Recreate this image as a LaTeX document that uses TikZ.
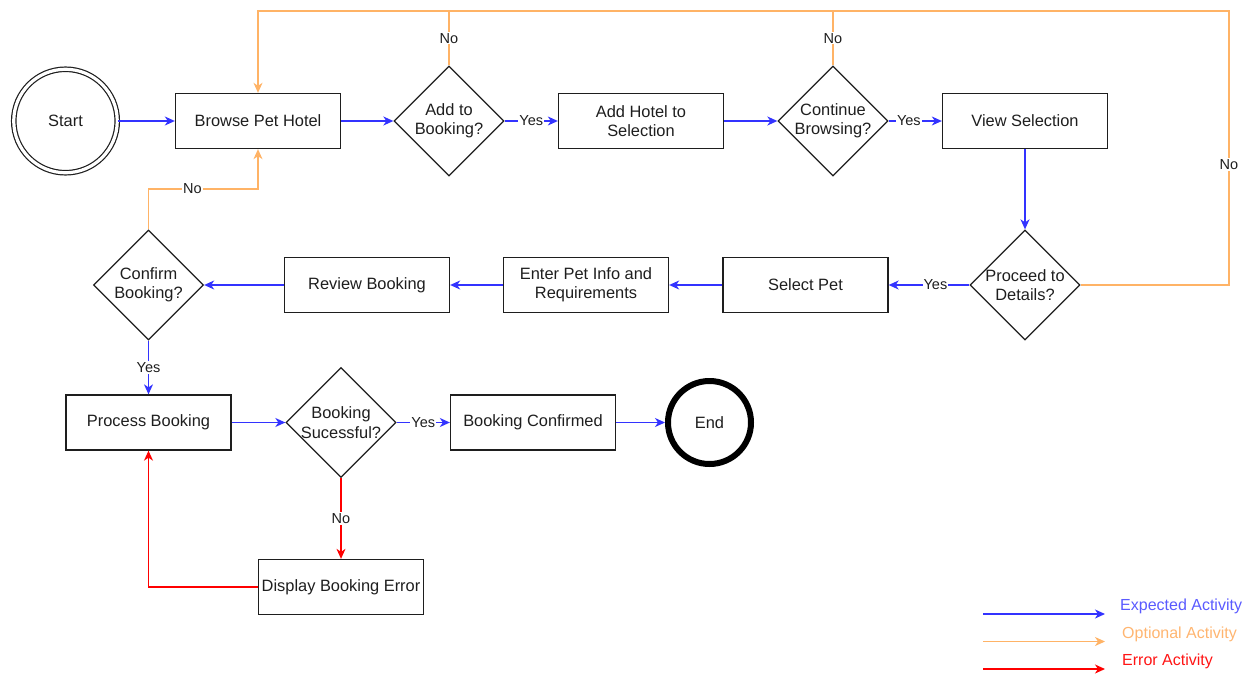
\documentclass[tikz,border=0pt]{standalone}
\usepackage{fontspec}
\setmainfont{Liberation Sans}
\usetikzlibrary{arrows.meta,shapes.geometric,calc}

\definecolor{flowblue}{RGB}{51,51,255}
\definecolor{flowopt}{RGB}{255,179,102}
\definecolor{flowerr}{RGB}{255,0,0}
\definecolor{ink}{RGB}{30,30,30}
\definecolor{legblue}{RGB}{90,90,255}
\definecolor{legorange}{RGB}{255,181,112}
\definecolor{legred}{RGB}{255,20,20}

\newcommand{\bodyfont}{\fontsize{16.4}{19.5}\selectfont}
\newcommand{\edgefont}{\fontsize{14.5}{16}\selectfont}
\newcommand{\legfont}{\fontsize{16}{18}\selectfont}

\begin{document}
\begin{tikzpicture}[x=1pt,y=-1pt,
  box/.style={draw=ink,line width=1.3pt,minimum width=165pt,minimum height=55pt,
              inner sep=2pt,align=center,font=\bodyfont,text=ink},
  decision/.style={draw=ink,diamond,line width=1.3pt,minimum width=110pt,
                   minimum height=110pt,inner sep=0pt},
  dtext/.style={font=\bodyfont,text=ink,align=center},
  flow/.style={line width=1.3pt,-{Stealth[length=10pt,width=9pt,inset=3pt]}},
  expected/.style={flow,draw=flowblue},
  optional/.style={flow,draw=flowopt},
  error/.style={flow,draw=flowerr},
  optline/.style={line width=1.3pt,draw=flowopt},
  lbl/.style={fill=white,inner sep=1pt,font=\edgefont,text=ink},
  legtext/.style={anchor=west,inner sep=0pt,font=\legfont},
]
\useasboundingbox (0,0) rectangle (1251,675);

% ---- first row ----
\node[circle,draw=ink,double,double distance=3.2pt,line width=1.2pt,
      minimum size=103.5pt,inner sep=0pt,font=\bodyfont,text=ink] (start) at (65.5,121) {Start};
\node[box] (browse) at (258,121) {Browse Pet Hotel};
\node[decision,label={[dtext,name=d1t]center:Add to\\Booking?}] (d1) at (449,121) {};
\node[box] (addhotel) at (641,121) {Add Hotel to\\Selection};
\node[decision,label={[dtext,name=d2t]center:Continue\\Browsing?}] (d2) at (833,121) {};
\node[box] (view) at (1025,121) {View Selection};

% ---- second row ----
\node[decision,label={[dtext,name=proceedt]center:Proceed to\\Details?}] (proceed) at (1025,285) {};
\node[box] (selectpet) at (805.5,285) {Select Pet};
\node[box] (enter) at (586,285) {Enter Pet Info and\\Requirements};
\node[box] (review) at (367,285) {Review Booking};
\node[decision,label={[dtext,name=confirmt]center:Confirm\\Booking?}] (confirm) at (148.5,285) {};

% ---- third row ----
\node[box] (process) at (148.5,422.5) {Process Booking};
\node[decision,label={[dtext,name=successt]center:Booking\\Sucessful?}] (success) at (341,422.5) {};
\node[box] (confirmed) at (533,422.5) {Booking Confirmed};
\node[circle,draw=black,line width=6pt,minimum size=83pt,inner sep=0pt,
      font=\bodyfont,text=ink] (end) at (709.5,422.5) {End};
\node[box] (display) at (341,587) {Display Booking Error};

% ---- routing points ----
\coordinate (top) at (0,11);
\coordinate (turn) at (0,189);
\coordinate (corner) at (1229,0);

% ---- expected flow ----
\draw[expected] (start) -- (browse);
\draw[expected] (browse) -- (d1);
\draw[expected] (d1) -- node[lbl]{Yes} (addhotel);
\draw[expected] (addhotel) -- (d2);
\draw[expected] (d2) -- node[lbl,pos=0.38]{Yes} (view);
\draw[expected] (view) -- (proceed);
\draw[expected] (proceed) -- node[lbl,pos=0.42]{Yes} (selectpet);
\draw[expected] (selectpet) -- (enter);
\draw[expected] (enter) -- (review);
\draw[expected] (review) -- (confirm);
\draw[expected] (confirm) -- node[lbl]{Yes} (process);
\draw[expected] (process) -- (success);
\draw[expected] (success) -- node[lbl]{Yes} (confirmed);
\draw[expected] (confirmed) -- (end);

% ---- optional flow ----
\draw[optional] (d1.north) -- node[lbl]{No} (d1.north |- top) -| (browse.north);
\draw[optline] (d2.north) -- node[lbl]{No} (d2.north |- top) -- (d1.north |- top);
\draw[optline] (proceed.east) -| node[lbl,pos=0.72]{No} (corner |- top) -- (d2.north |- top);
\draw[optional] (confirm.north) -- (confirm.north |- turn) -| node[lbl,pos=0.2]{No} (browse.south);

% ---- error flow ----
\draw[error] (success) -- node[lbl]{No} (display);
\draw[error] (display.west) -| (process.south);

% ---- legend ----
\coordinate (la) at (983,614);  \coordinate (lb) at (1105,614);
\coordinate (lc) at (983,641.5);\coordinate (ld) at (1105,641.5);
\coordinate (le) at (983,669);  \coordinate (lf) at (1105,669);
\draw[expected] (la) -- (lb);
\draw[optional] (lc) -- (ld);
\draw[error] (le) -- (lf);
\node[legtext,text=legblue] (legexp) at (1120,606.5) {Expected Activity};
\node[legtext,text=legorange] (legopt) at (1122,634) {Optional Activity};
\node[legtext,text=legred] (legerr) at (1122,661) {Error Activity};
\end{tikzpicture}
\end{document}
